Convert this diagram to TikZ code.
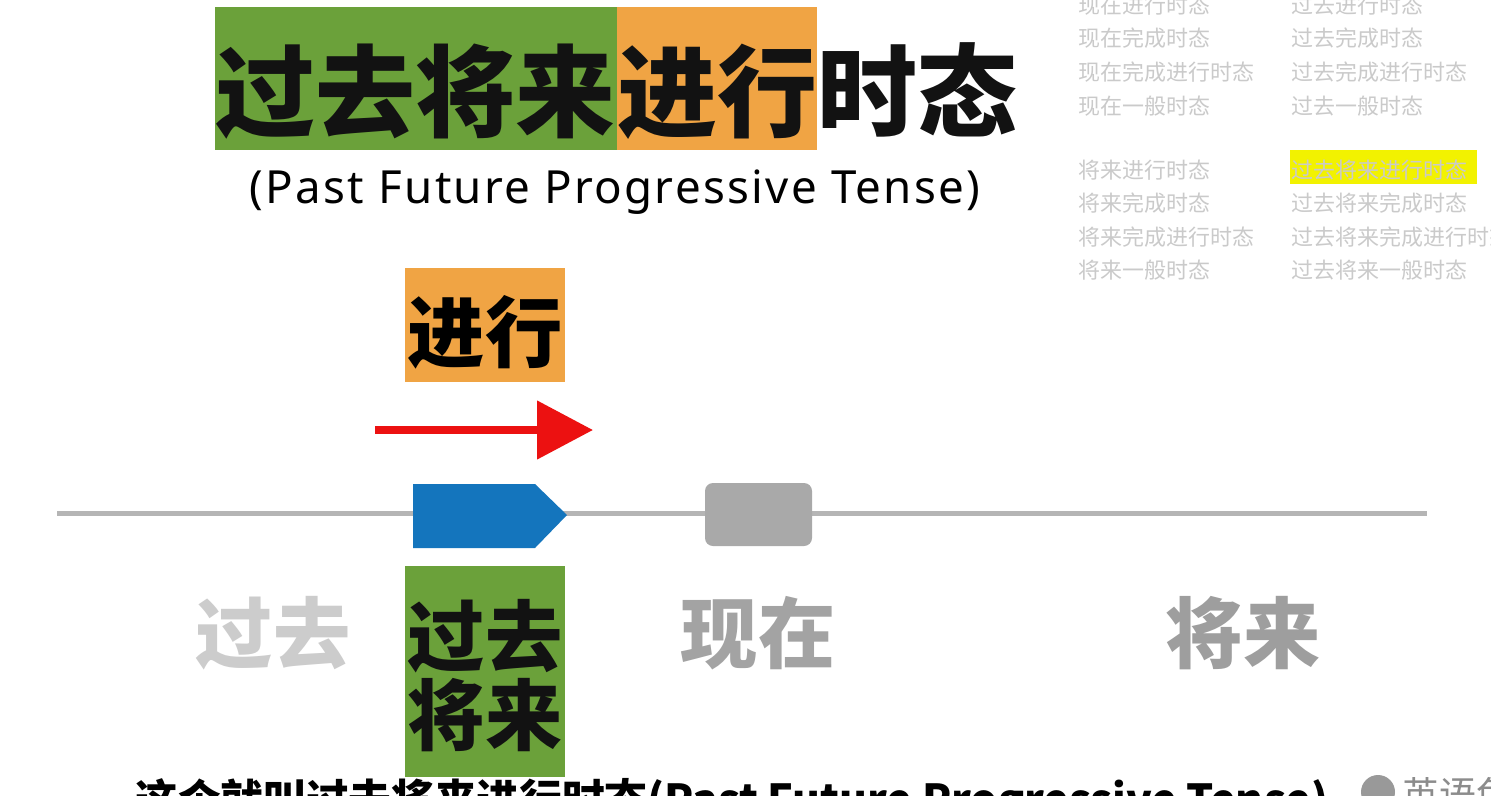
\documentclass[tikz,border=0pt]{standalone}
\usepackage{fontspec}
\setmainfont{Noto Sans}
\newfontfamily\cjk{Noto Sans CJK SC}
\newfontfamily\subfont{Noto Sans}[LetterSpace=5]
\usepackage{xcolor}
\usepackage{tikz}
\usetikzlibrary{positioning,arrows.meta}
\definecolor{pastgreen}{HTML}{6BA13A}
\definecolor{progorange}{HTML}{F0A444}
\definecolor{nowblue}{HTML}{1475BD}
\definecolor{boxgray}{HTML}{A9A9A9}
\definecolor{linegray}{HTML}{B5B5B5}
\definecolor{listgray}{HTML}{CACACA}
\definecolor{hiyellow}{HTML}{F2F200}
\definecolor{arrowred}{HTML}{EC1111}

\begin{document}
\begin{tikzpicture}[
    x=0.02cm, y=-0.02cm,
    bigzi/.style={font=\cjk\bfseries\fontsize{56.9}{60}\selectfont, inner sep=0pt, text=black!93},
    midzi/.style={font=\cjk\bfseries\fontsize{44}{53}\selectfont, inner sep=0pt, align=center},
    listtext/.style={font=\cjk\fontsize{12.5}{14}\selectfont, text=listgray, anchor=west, inner sep=0pt},
    timeline/.style={draw=linegray, line width=0.1cm},
    redarr/.style={-{Triangle[length=1.12cm, width=1.14cm]}, line width=0.16cm, draw=arrowred, fill=arrowred}
]
    \useasboundingbox (0,0) rectangle (1491,795);
    \clip (0,0) rectangle (1491,795);
    \fill[white] (0,0) rectangle (1491,795);

    % title
    \fill[pastgreen] (215,7) rectangle (617,150);
    \fill[progorange] (617,7) rectangle (817,150);
    \node[bigzi, anchor=base west] (tpast) at (215,129) {过去将来};
    \node[bigzi, anchor=base west] (tprog) at (617,129) {进行};
    \node[bigzi, anchor=base west] (ttense) at (817,129) {时态};
    \node[font=\subfont\fontsize{26}{30}\selectfont, anchor=base, inner sep=0pt] (sub) at (615,203) {(Past Future Progressive Tense)};

    % tense list
    \fill[hiyellow] (1290,150) rectangle (1477,184);
    \foreach \t [count=\i] in {现在进行时态,现在完成时态,现在完成进行时态,现在一般时态}
        \node[listtext] (nowl\i) at (1078,{5+33.6*(\i-1)}) {\t};
    \foreach \t [count=\i] in {过去进行时态,过去完成时态,过去完成进行时态,过去一般时态}
        \node[listtext] (pastl\i) at (1291,{5+33.6*(\i-1)}) {\t};
    \foreach \t [count=\i] in {将来进行时态,将来完成时态,将来完成进行时态,将来一般时态}
        \node[listtext] (futl\i) at (1078,{170+33.4*(\i-1)}) {\t};
    \foreach \t [count=\i] in {过去将来进行时态,过去将来完成时态,过去将来完成进行时态,过去将来一般时态}
        \node[listtext] (pfutl\i) at (1291,{170+33.4*(\i-1)}) {\t};

    % progressive marker
    \fill[progorange] (405,268) rectangle (565,382);
    \node[midzi] (prog) at (485,332) {进行};
    \coordinate (arrstart) at (375,430);
    \coordinate (arrend) at (593,430);
    \draw[redarr] (arrstart) -- (arrend);

    % time line
    \coordinate (linestart) at (57,513);
    \coordinate (lineend) at (1427,513);
    \draw[timeline] (linestart) -- (lineend);
    \fill[nowblue] (413,484) -- (535,484) -- (567,515) -- (535,548) -- (413,548) -- cycle;
    \fill[boxgray, rounded corners=0.16cm] (705,483) rectangle (812,546);

    % labels
    \node[midzi, text=black!20] (past) at (273,633) {过去};
    \fill[pastgreen] (405,566) rectangle (565,777);
    \node[midzi, text=black!93] (pastfut) at (485,676) {过去\\[-8pt]将来};
    \node[midzi, text=black!36] (now) at (758,633) {现在};
    \node[midzi, text=black!38] (fut) at (1243,633) {将来};

    % caption
    \node[font=\cjk\bfseries\fontsize{24.3}{30}\selectfont, anchor=base west, inner sep=0pt] (cap) at (135,815) {这个就叫过去将来进行时态(Past Future Progressive Tense)};
    \fill[black!40] (1378,792) circle (17);
    \node[font=\cjk\fontsize{21}{25}\selectfont, text=black!45, anchor=base west, inner sep=0pt] (logo) at (1402,808) {英语兔};
\end{tikzpicture}
\end{document}
